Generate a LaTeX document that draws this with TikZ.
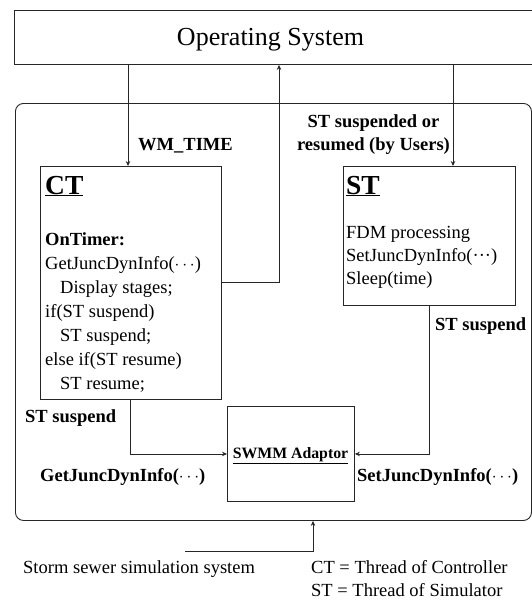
\documentclass[tikz,border=0pt]{standalone}
\usepackage{fontspec}
\setmainfont{Liberation Serif}
\usetikzlibrary{arrows.meta}
\begin{document}
\begin{tikzpicture}[x=1pt,y=-1pt,
  line/.style={draw=black!85, line width=0.9pt},
  arr/.style={line, -{Stealth[length=5pt,width=4.5pt]}},
  box/.style={draw=black!85, line width=0.9pt, inner sep=0pt, anchor=north west},
  txt/.style={inner sep=0pt, anchor=base west, font=\fontsize{18.5}{22}\selectfont},
  lbl/.style={inner sep=0pt, anchor=base west, font=\fontsize{18.5}{22}\selectfont\bfseries},
  ttl/.style={inner sep=0pt, anchor=base west, font=\fontsize{27.5}{30}\selectfont\bfseries},
]
\useasboundingbox (0,0) rectangle (532,600);

% blocks
\node[box, minimum width=530pt, minimum height=54pt] (os) at (14,10) {};
\node[inner sep=0pt, anchor=base, font=\fontsize{26}{30}\selectfont] (ostext) at (270.5,45) {Operating System};
\node[box, rounded corners=8pt, minimum width=516pt, minimum height=417pt] (sys) at (15,103) {};
\node[box, minimum width=181pt, minimum height=233pt] (ct) at (40,166) {};
\node[box, minimum width=172pt, minimum height=139pt] (st) at (343,166) {};
\node[box, minimum width=127pt, minimum height=95pt] (sw) at (227,406) {};

% controller thread
\node[ttl] (cttitle) at (45,194) {\underline{CT}};
\node[lbl] (ct1) at (45,245) {OnTimer:};
\node[txt] (ct2) at (45,269) {GetJuncDynInfo($\cdots$)};
\node[txt] (ct3) at (60,293) {Display stages;};
\node[txt] (ct4) at (45,317) {if(ST suspend)};
\node[txt] (ct5) at (60,341) {ST suspend;};
\node[txt] (ct6) at (45,365) {else if(ST resume)};
\node[txt] (ct7) at (60,389) {ST resume;};

% simulator thread
\node[ttl] (sttitle) at (346,194) {\underline{ST}};
\node[txt] (st1) at (346,238) {FDM processing};
\node[txt] (st2) at (346,261) {SetJuncDynInfo(···)};
\node[txt] (st3) at (346,284) {Sleep(time)};

% adaptor
\node[inner sep=0pt, anchor=base, font=\fontsize{15.8}{18}\selectfont\bfseries] (swtext) at (290.5,458) {\underline{SWMM Adaptor}};

% connector labels
\node[lbl] (l1) at (138,150) {WM\_TIME};
\node[inner sep=0pt, anchor=base, font=\fontsize{18.5}{22}\selectfont\bfseries] (l2a) at (373.5,127) {ST suspended or};
\node[inner sep=0pt, anchor=base, font=\fontsize{18.5}{22}\selectfont\bfseries] (l2b) at (373.5,150) {resumed (by Users)};
\node[lbl] (l3) at (25,422) {ST suspend};
\node[lbl] (l4) at (435,330) {ST suspend};
\node[lbl] (l5) at (40,481) {GetJuncDynInfo($\cdots$)};
\node[lbl] (l6) at (357,481) {SetJuncDynInfo($\cdots$)};

% legend
\node[txt] (cap) at (23,573) {Storm sewer simulation system};
\node[txt] (key1) at (311,573) {CT = Thread of Controller};
\node[txt] (key2) at (311,596) {ST = Thread of Simulator};

% connector columns and rows
\coordinate (xa) at (128,0);
\coordinate (xb) at (279,0);
\coordinate (xc) at (453,0);
\coordinate (xd) at (130,0);
\coordinate (xe) at (429,0);
\coordinate (xf) at (313,0);
\coordinate (ya) at (0,282);
\coordinate (src) at (185,551);

\draw[arr] (os.south -| xa) -- (ct.north -| xa);
\draw[arr] (ct.east |- ya) -| (os.south -| xb);
\draw[arr] (os.south -| xc) -- (st.north -| xc);
\draw[arr] (ct.south -| xd) |- (sw.west);
\draw[arr] (st.south -| xe) |- (sw.east);
\draw[arr] (src) -| (sys.south -| xf);
\end{tikzpicture}
\end{document}
